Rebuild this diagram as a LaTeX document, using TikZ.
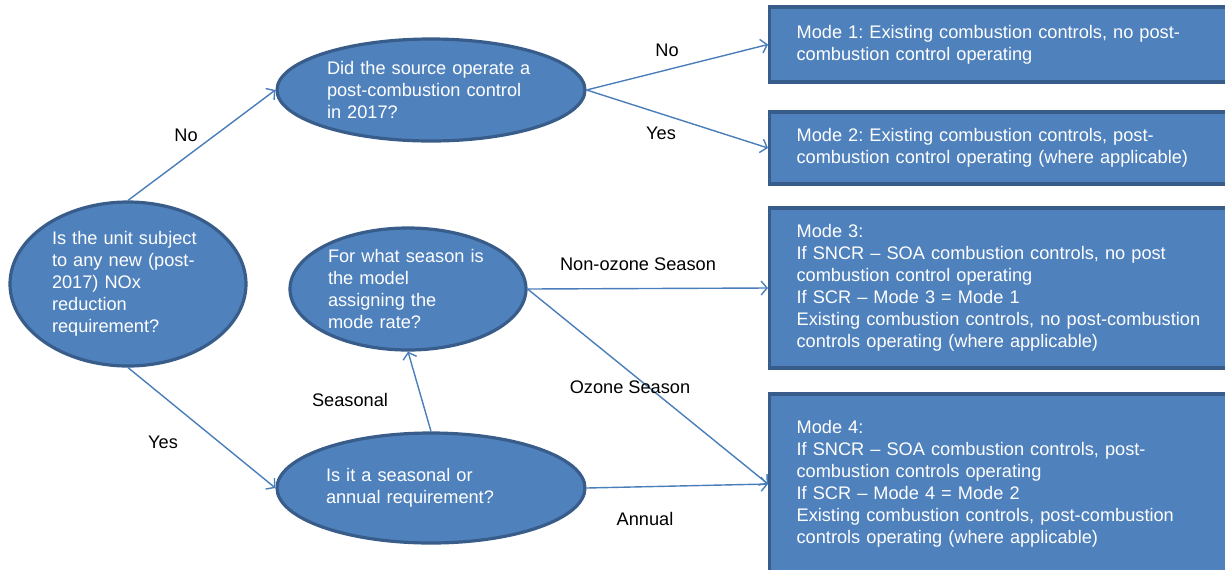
\documentclass[tikz,border=0pt]{standalone}
\usepackage{fontspec}
\setmainfont{Liberation Sans}
\usetikzlibrary{shapes.geometric,arrows.meta}
\definecolor{boxfill}{HTML}{4F81BD}
\definecolor{boxline}{HTML}{385D8A}
\definecolor{arrline}{HTML}{4A7EBB}
\frenchspacing
\begin{document}
\begin{tikzpicture}[x=0.5pt,y=-0.5pt,
  every node/.style={font=\fontsize{9.1pt}{11pt}\selectfont},
  question/.style={ellipse,draw=boxline,fill=boxfill,line width=1.6pt,text=white,align=left,inner sep=0pt},
  mode/.style={rectangle,draw=boxline,fill=boxfill,line width=1.6pt,text=white,align=left,anchor=west,
    inner xsep=13.5pt,text width=215pt},
  conn/.style={draw=arrline,line width=0.7pt,-{Straight Barb[length=3pt,width=7pt]}},
  lbl/.style={text=black}]
\def\yOne{44.5}
\def\yTwo{148}
\def\yThree{288}
\def\yFour{484}
\useasboundingbox (0,0) rectangle (1225,569);
\clip (0,0) rectangle (1225,569);
\path
(128,284) node [question,minimum width=118pt,minimum height=82pt,text width=76pt] (unit) {Is the unit subject\\to any new (post-\\2017) NOx\\reduction\\requirement?}
(431,90) node [question,minimum width=154pt,minimum height=51pt,text width=104pt] (source) {Did the source operate a\\post-combustion control\\in 2017?}
(408,289) node [question,minimum width=118pt,minimum height=61pt,text width=80pt] (season) {For what season is\\the model\\assigning the\\mode rate?}
(431,488) node [question,minimum width=154pt,minimum height=55pt,text width=105pt] (annual) {Is it a seasonal or\\annual requirement?}
;
\path
(768,\yOne) node [mode,minimum height=37.5pt] (modeA) {Mode 1: Existing combustion controls, no post-\\combustion control operating}
(768,\yTwo) node [mode,minimum height=36pt] (modeB) {Mode 2: Existing combustion controls, post-\\combustion control operating (where applicable)}
(768,\yThree) node [mode,minimum height=80pt] (modeC) {Mode 3:\\If SNCR -- SOA combustion controls, no post\\combustion control operating\\If SCR -- Mode 3 = Mode 1\\Existing combustion controls, no post-combustion\\controls operating (where applicable)}
(768,\yFour) node [mode,minimum height=90pt] (modeD) {Mode 4:\\If SNCR -- SOA combustion controls, post-\\combustion controls operating\\If SCR -- Mode 4 = Mode 2\\Existing combustion controls, post-combustion\\controls operating (where applicable)}
;
\begin{scope}[every path/.style=conn]
\path (unit.north) -- (source.west);
\path (unit.south) -- (annual.west);
\path (source.east) -- (modeA.west);
\path (source.east) -- (modeB.west);
\path (annual.north) -- (season.south);
\path (season.east) -- (modeC.west);
\path (season.east) -- (modeD.west);
\path (annual.east) -- (modeD.west);
\end{scope}
\path
(186,135) node [lbl] (noA) {No}
(163,442) node [lbl] (yesA) {Yes}
(667,50) node [lbl] (noB) {No}
(661,133) node [lbl] (yesB) {Yes}
(350,400) node [lbl] (seasonal) {Seasonal}
(638,264) node [lbl] (nonozone) {Non-ozone Season}
(630,387) node [lbl] (ozone) {Ozone Season}
(645,519) node [lbl] (annualtxt) {Annual}
;
\end{tikzpicture}
\end{document}
